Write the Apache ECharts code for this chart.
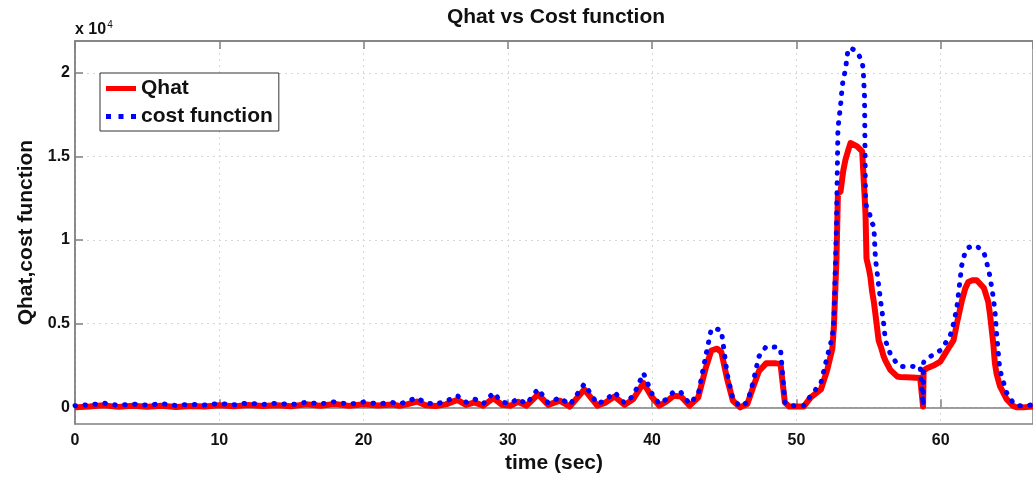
<!DOCTYPE html>
<html>
<head>
<meta charset="utf-8">
<script src="https://cdn.jsdelivr.net/npm/echarts@6/dist/echarts.min.js"></script>
<style>
  html, body { margin: 0; padding: 0; background: #fff; }
  #chart { width: 1033px; height: 479px; }
</style>
</head>
<body>
<div id="chart"></div>
<script>
// time (sec)
var time = [0, 1, 2, 3, 4, 5, 6, 7, 8, 9, 10, 11, 12, 13, 14, 15, 16, 17, 18, 19, 20, 21, 22,
  22.5, 23, 23.7, 24.3, 25, 25.7, 26.5, 27.1, 27.7, 28.3,
  29, 29.6, 30.2, 30.7, 31.3, 32.1, 32.8, 33.6, 34.3, 35.3,
  36.2, 36.8, 37.4, 38.1, 38.7, 39.4, 40, 40.5, 41, 41.5,
  42, 42.6, 43.2, 43.7, 44.1, 44.5, 44.8, 45.2, 45.6, 46.1,
  46.6, 47, 47.4, 47.9, 48.6, 48.9, 49.2, 49.5, 50.5, 51,
  51.7, 52.14, 52.49, 52.6, 52.78, 52.88, 53.06, 53.18, 53.25, 53.4,
  53.57, 53.75, 53.87, 54.21, 54.56, 54.63, 54.72, 54.79, 54.86, 55.02,
  55.13, 55.25, 55.37, 55.48, 55.7, 55.9, 56.05, 56.17, 56.51, 56.63,
  56.98, 57.2, 58, 58.58, 58.7, 58.78, 58.82, 59.05, 59.5, 59.97,
  60.3, 60.66, 60.89, 61.12, 61.46, 61.7, 61.92, 62.2, 62.5, 63,
  63.3, 63.42, 63.65, 63.76, 63.88, 64.1, 64.57, 65, 65.26, 65.7,
  66.4]

var qhat = [0, 50, 120, 30, 90, 40, 100, 20, 80, 50, 120, 60, 140, 80, 130, 70, 180, 100, 200, 90, 190, 110, 170,
  90, 180, 350, 120, 80, 180, 450, 150, 300, 100,
  550, 150, 100, 330, 100, 780, 150, 400, 50, 1070,
  100, 300, 650, 150, 500, 1460, 600, 100, 350, 700,
  650, 100, 600, 2300, 3400, 3510, 3300, 1700, 400, 0,
  200, 1200, 2160, 2630, 2630, 2600, 300, 50, 50, 600,
  1070, 2240, 3500, 4800, 8890, 12770, 12900, 12980, 14150, 14800,
  15300, 15800, 15750, 15600, 15300, 15210, 12770, 11600, 8890, 8300,
  7800, 6920, 6300, 5560, 4000, 3500, 3040, 2800, 2240, 2150,
  1850, 1820, 1780, 1760, 1755, 50, 2200, 2340, 2500, 2730,
  3200, 3700, 4000, 5000, 6340, 7100, 7500, 7600, 7600, 7130,
  6300, 5560, 3800, 2630, 2000, 1290, 490, 100, 0, 0,
  50]

var costFn = [100, 150, 250, 120, 200, 130, 220, 110, 180, 140, 230, 150, 260, 170, 250, 160, 300, 200, 330, 180, 320, 210, 290,
  200, 350, 585, 250, 200, 350, 700, 300, 500, 220,
  880, 300, 250, 525, 200, 1110, 250, 585, 150, 1400,
  200, 450, 900, 250, 700, 2050, 800, 200, 500, 950,
  900, 200, 800, 3000, 4680, 4680, 4600, 2000, 500, 50,
  300, 1500, 3040, 3630, 3600, 3500, 300, 100, 100, 700,
  1460, 3040, 4200, 5200, 10820, 16670, 18040, 19210, 19600, 20180,
  21350, 21500, 21550, 21250, 20670, 20200, 18620, 12400, 12000, 11700,
  11400, 11000, 10820, 8890, 7310, 5950, 5000, 4000, 3200, 3040,
  2600, 2450, 2450, 2440, 2440, 100, 2700, 2925, 3150, 3410,
  3800, 4290, 5000, 5950, 8480, 9300, 9550, 9650, 9650, 9260,
  8300, 7800, 6550, 5800, 4390, 2240, 880, 300, 100, 100,
  150]

var yTicks = [0, 5000, 10000, 15000, 20000]

var font = "'Liberation Sans', Arial, sans-serif"
var axisGrey = '#808080'

var chart = echarts.init(document.getElementById('chart'))

chart.setOption({
  animation: false,
  backgroundColor: '#fff',
  textStyle: { fontFamily: font },
  grid: {
    left: 75, top: 41, width: 962, height: 391,
    show: true, borderColor: axisGrey, borderWidth: 1.5
  },
  graphic: [
    {
      type: 'text', x: 556, y: 17,
      style: {
        text: 'Qhat vs Cost function', fontFamily: font, fontSize: 21, fontWeight: 'bold',
        fill: '#111', align: 'center', verticalAlign: 'middle'
      }
    },
    {
      type: 'text', x: 75, y: 20,
      style: {
        text: '{a|x 10}{b|4}', fontFamily: font, fill: '#111',
        rich: {
          a: { fontSize: 16, fontWeight: 'bold', fontFamily: font, lineHeight: 18, verticalAlign: 'bottom' },
          b: { fontSize: 10, fontFamily: font, lineHeight: 18, verticalAlign: 'top', padding: [0, 0, 0, 1] }
        }
      }
    }
  ],
  legend: {
    orient: 'vertical', left: 100, top: 73,
    padding: [5, 6, 4, 6], itemGap: 7, itemWidth: 30, itemHeight: 5,
    backgroundColor: '#fff', borderColor: '#333', borderWidth: 1, borderRadius: 0,
    textStyle: { fontSize: 21, fontWeight: 'bold', color: '#111', fontFamily: font, lineHeight: 21 },
    data: [
      { name: 'Qhat', icon: 'path://M0,0h30v5h-30z', itemStyle: { color: '#ff0000' } },
      { name: 'cost function', icon: 'path://M0,0h5v5h-5z M12.5,0h5v5h-5z M25,0h5v5h-5z', itemStyle: { color: '#0000ff' } }
    ]
  },
  xAxis: [
    {
      type: 'value', min: 0, max: 66.4, interval: 10,
      name: 'time (sec)', nameLocation: 'middle', nameGap: 22,
      nameTextStyle: { fontSize: 21, fontWeight: 'bold', color: '#111', fontFamily: font },
      axisLine: { lineStyle: { color: axisGrey, width: 1.5 } },
      axisTick: { inside: true, length: 8, lineStyle: { color: axisGrey, width: 1.5 } },
      axisLabel: { fontSize: 16, fontWeight: 'bold', color: '#111', margin: 8, showMaxLabel: false },
      splitLine: { show: true, lineStyle: { color: '#d6d6d6', type: [2, 4], width: 1 } }
    },
    {
      type: 'value', position: 'top', min: 0, max: 66.4, interval: 10,
      axisLine: { lineStyle: { color: axisGrey, width: 1.5 } },
      axisTick: { inside: true, length: 8, lineStyle: { color: axisGrey, width: 1.5 } },
      axisLabel: { show: false },
      splitLine: { show: false }
    }
  ],
  yAxis: {
    type: 'value', min: -1000, max: 21900,
    name: 'Qhat,cost function', nameLocation: 'middle', nameGap: 36,
    nameTextStyle: { fontSize: 21, fontWeight: 'bold', color: '#111', fontFamily: font },
    axisLine: { show: true, lineStyle: { color: axisGrey, width: 1.5 } },
    axisTick: { show: true, inside: true, length: 8, customValues: yTicks, lineStyle: { color: axisGrey, width: 1.5 } },
    axisLabel: {
      fontSize: 16, fontWeight: 'bold', color: '#111', margin: 5, customValues: yTicks,
      formatter: function (v) { return String(v / 10000) }
    },
    splitLine: { show: true, lineStyle: { color: '#d6d6d6', type: [2, 4], width: 1 } }
  },
  series: [
    {
      name: 'Qhat', type: 'line', showSymbol: false, symbol: 'none',
      data: time.map(function (t, i) { return [t, qhat[i]] }),
      lineStyle: { color: '#ff0000', width: 6, join: 'round' },
      itemStyle: { color: '#ff0000' }
    },
    {
      name: 'cost function', type: 'line', showSymbol: false, symbol: 'none',
      data: time.map(function (t, i) { return [t, costFn[i]] }),
      lineStyle: { color: '#0000ff', width: 5, type: [0.5, 9.5], cap: 'round' },
      itemStyle: { color: '#0000ff' }
    }
  ]
})
</script>
</body>
</html>
